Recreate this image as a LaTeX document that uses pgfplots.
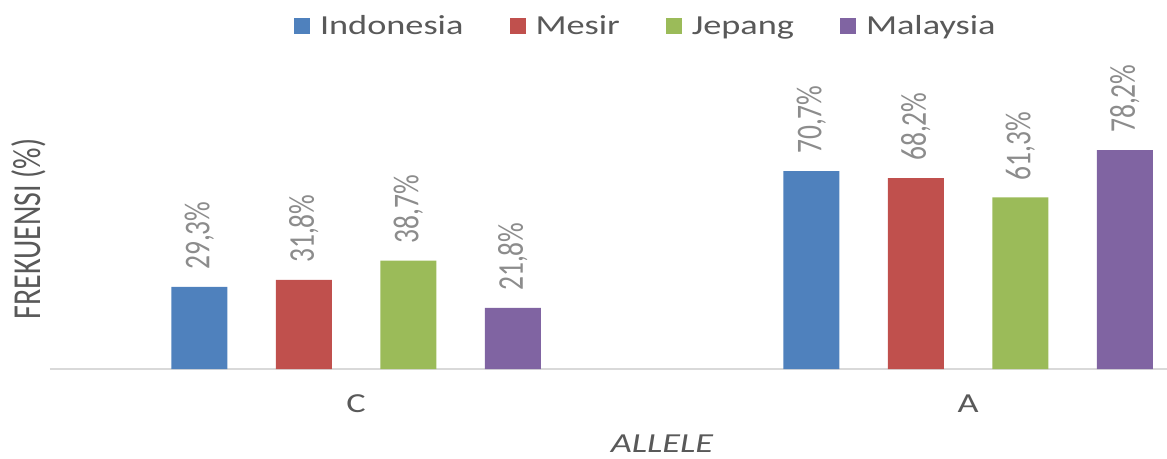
\documentclass[border=0pt]{standalone}
\usepackage{fontspec}
\setmainfont{Carlito}
\usepackage{graphicx}
\usepackage{pgfplots}
\pgfplotsset{compat=1.18}
\definecolor{cInd}{HTML}{4F81BD}
\definecolor{cMes}{HTML}{C0504D}
\definecolor{cJep}{HTML}{9BBB59}
\definecolor{cMal}{HTML}{8064A2}
\definecolor{txt}{HTML}{595959}
\definecolor{lbl}{HTML}{8C8C8C}
\definecolor{base}{HTML}{D9D9D9}
\newcommand\F{\fontsize{27.5}{33}\selectfont}
\newcommand\sx[1]{\scalebox{1.32}[1]{#1}}
\newcommand\sy[1]{\scalebox{1}[1.32]{#1}}
\begin{document}
\begin{tikzpicture}
\begin{axis}[name=ax, at={(0,0)}, anchor=south west,
  scale only axis, width=1224pt, height=280pt,
  xmin=-0.5, xmax=1.5, ymin=0, ymax=100,
  ybar=48.5pt, bar width=56pt,
  axis x line=bottom, axis y line=left,
  x axis line style={-, draw=base, line width=1.5pt},
  y axis line style={draw=none},
  xtick={0,1}, xticklabels={\sx{C},\sx{A}}, major tick length=0pt,
  xticklabel style={font=\F, text=txt, yshift=-22pt},
  xlabel={\sx{\itshape ALLELE}},
  xlabel style={at={(axis description cs:0.5,0)}, anchor=center, yshift=-75pt, font=\F, text=txt},
  ylabel={\sy{FREKUENSI (\%)}},
  ylabel style={at={(axis description cs:0,0.5)}, anchor=center, rotate=0, yshift=21pt, font=\fontsize{30}{36}\selectfont, text=txt},
  ytick=\empty,
  clip=false,
  nodes near coords={\sy{\pgfmathprintnumber[fixed,fixed zerofill,precision=1,use comma,assume math mode=true]{\pgfplotspointmeta}\%}},
  nodes near coords align=horizontal,
  every node near coord/.append style={rotate=90, font=\F, text=lbl, inner xsep=17pt},
  legend columns=4,
  legend style={at={(0.490,1.225)}, anchor=center, draw=none, font=\F, text=txt,
    /tikz/every even column/.append style={column sep=36pt},
    nodes={inner xsep=10pt}},
  legend image code/.code={\fill[#1] (0pt,-8pt) rectangle (16pt,8pt);},
]
\addplot[fill=cInd, draw=none] coordinates {(0,29.3) (1,70.7)};
\addplot[fill=cMes, draw=none] coordinates {(0,31.8) (1,68.2)};
\addplot[fill=cJep, draw=none] coordinates {(0,38.7) (1,61.3)};
\addplot[fill=cMal, draw=none] coordinates {(0,21.8) (1,78.2)};
\addlegendentry{\sx{Indonesia}}
\addlegendentry{\sx{Mesir}}
\addlegendentry{\sx{Jepang}}
\addlegendentry{\sx{Malaysia}}
\end{axis}
\pgfresetboundingbox
\path[use as bounding box] ([xshift=-50pt,yshift=-89pt]ax.south west) rectangle ([xshift=1117pt,yshift=369pt]ax.south west);
\end{tikzpicture}
\end{document}
